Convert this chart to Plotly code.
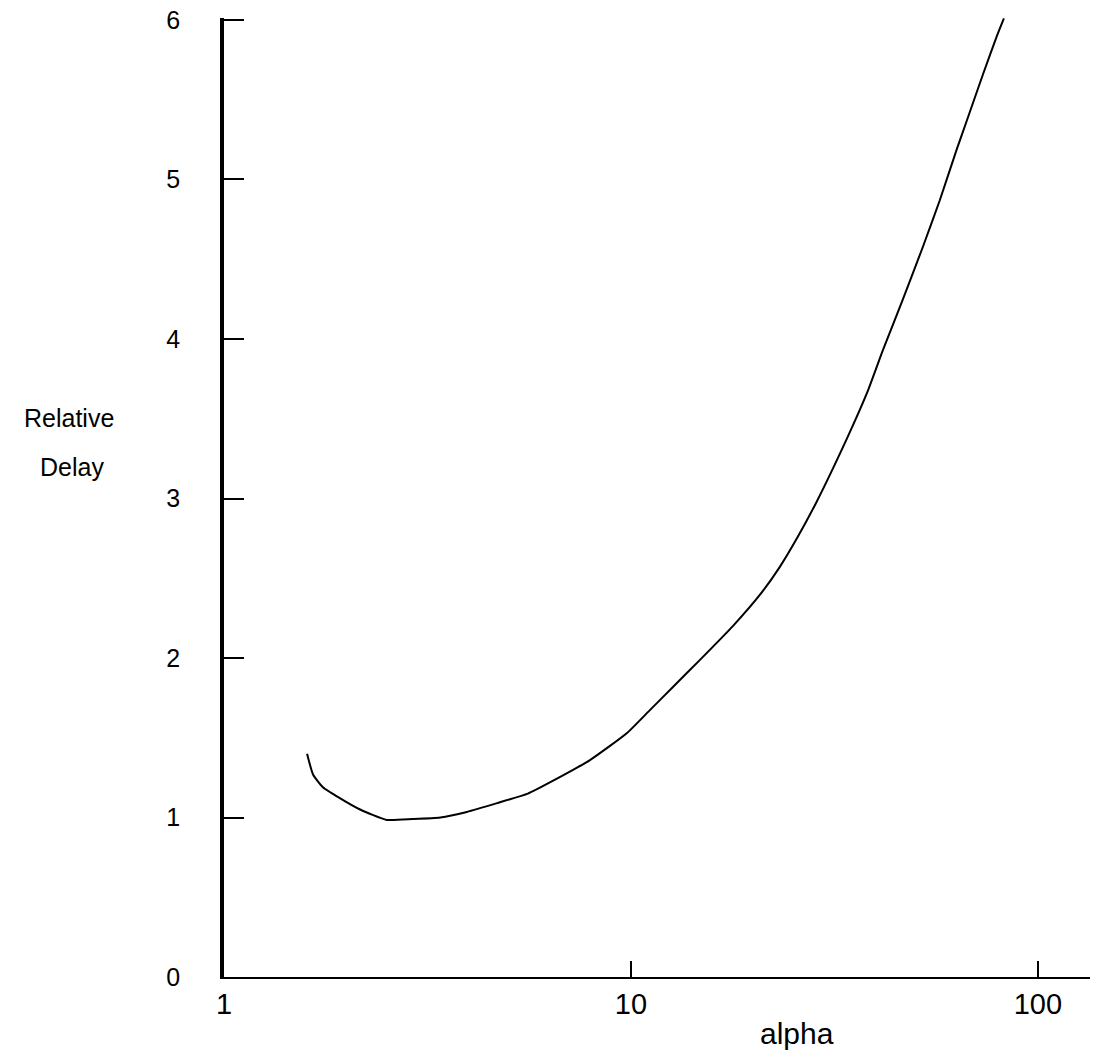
import plotly.graph_objects as go

# Data
alpha = [1.60, 1.655, 1.75, 1.93, 2.16, 2.51, 2.91, 3.40, 3.95, 4.69, 5.58,
         6.32, 7.93, 9.78, 11.1, 12.7, 14.8, 17.8, 20.8, 23.2, 25.7, 28.6,
         34.0, 38.0, 41.6, 46.6, 52.2, 57.4, 63.2, 66.9, 73.3, 79.3, 82.5]
delay = [1.40, 1.27, 1.19, 1.12, 1.05, 0.985, 0.99, 1.00, 1.035, 1.09, 1.15,
         1.22, 1.36, 1.53, 1.67, 1.82, 1.99, 2.20, 2.40, 2.57, 2.76, 2.98,
         3.38, 3.66, 3.93, 4.25, 4.58, 4.87, 5.19, 5.37, 5.66, 5.90, 6.01]

x_tickvals = [1, 10, 100]
x_ticktext = ["1", "10", "100"]
y_tickvals = [0, 1, 2, 3, 4, 5, 6]
y_ticktext = ["0", "1", "2", "3", "4", "5", "6"]

FONT = "Liberation Sans, Arial, Helvetica, sans-serif"
PAD = "\u00a0" * 5

fig = go.Figure()
fig.add_trace(go.Scatter(
    x=alpha, y=delay, mode="lines",
    line=dict(color="black", width=2, shape="spline", smoothing=0.5),
    cliponaxis=False, showlegend=False, hoverinfo="skip",
))

fig.update_layout(
    width=1095, height=1056,
    margin=dict(l=224, r=5, t=18, b=79),
    paper_bgcolor="white", plot_bgcolor="white",
    font=dict(family=FONT, color="black"),
    xaxis=dict(
        type="log", range=[0, 2.128],
        tickvals=x_tickvals, ticktext=x_ticktext,
        ticks="inside", ticklen=16, tickwidth=1.5, tickcolor="black",
        showline=True, linecolor="black", linewidth=2,
        showgrid=False, zeroline=False,
        tickfont=dict(size=29, family=FONT, color="black"),
    ),
    yaxis=dict(
        range=[0, 6.0125],
        tickvals=y_tickvals, ticktext=[t + PAD for t in y_ticktext],
        ticks="inside", ticklen=20, tickwidth=1.5, tickcolor="black",
        showline=True, linecolor="black", linewidth=4,
        showgrid=False, zeroline=False,
        tickfont=dict(size=25, family=FONT, color="black"),
    ),
    annotations=[
        dict(text="alpha", xref="paper", yref="paper", x=0.6617, y=-0.0585,
             xanchor="center", yanchor="middle", showarrow=False,
             font=dict(size=30, family=FONT, color="black")),
        dict(text="Relative", xref="paper", yref="paper", x=-0.179, y=0.5826,
             xanchor="center", yanchor="middle", showarrow=False,
             font=dict(size=25, family=FONT, color="black")),
        dict(text="Delay", xref="paper", yref="paper", x=-0.1755, y=0.5313,
             xanchor="center", yanchor="middle", showarrow=False,
             font=dict(size=25, family=FONT, color="black")),
    ],
)

fig.write_html("out.html")
